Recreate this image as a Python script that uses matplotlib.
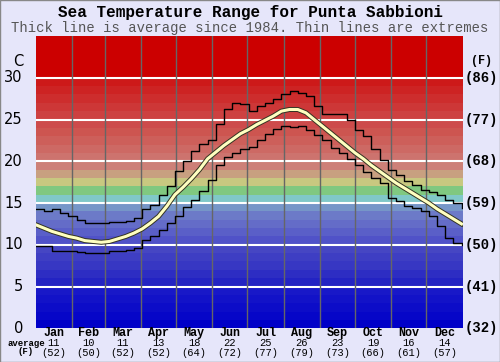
import numpy as np
import matplotlib
matplotlib.use("Agg")
import matplotlib.pyplot as plt
import matplotlib.patheffects as pe

# day of year for each sample (weekly)
days = list(range(0, 365, 7))

avg_temp = [12.4, 12.0, 11.6, 11.3, 11.0, 10.8, 10.5, 10.4, 10.3, 10.4,
            10.7, 11.0, 11.4, 11.9, 12.6, 13.4, 14.6, 16.0, 16.9, 17.9,
            19.0, 20.3, 21.1, 21.9, 22.6, 23.3, 23.8, 24.4, 24.9, 25.4,
            26.0, 26.2, 26.2, 25.8, 25.0, 24.2, 23.4, 22.6, 21.8, 21.0,
            20.3, 19.5, 18.8, 18.1, 17.4, 16.8, 16.2, 15.6, 15.0, 14.3,
            13.7, 13.1, 12.5]

max_temp = [14.3, 14.1, 14.3, 13.8, 13.4, 13.0, 12.6, 12.6, 12.6, 12.7,
            12.7, 12.8, 13.2, 14.3, 14.8, 16.0, 17.0, 18.8, 20.0, 21.2,
            22.1, 22.5, 24.5, 26.3, 27.0, 26.8, 26.0, 26.6, 27.0, 27.5,
            28.0, 28.4, 28.2, 27.8, 26.6, 25.6, 25.6, 25.7, 25.0, 23.8,
            23.0, 21.5, 20.2, 19.0, 18.3, 17.6, 17.2, 16.6, 16.3, 16.0,
            15.4, 15.0, 14.4]

min_temp = [9.9, 9.8, 9.2, 9.3, 9.2, 9.1, 9.0, 9.0, 9.0, 9.2,
            9.2, 9.4, 9.6, 10.6, 11.0, 11.8, 12.6, 13.4, 14.5, 15.4,
            16.4, 17.8, 19.5, 20.5, 21.0, 21.5, 21.7, 22.5, 23.3, 23.9,
            24.2, 24.1, 24.2, 23.8, 23.2, 22.6, 21.6, 21.0, 20.3, 19.6,
            18.7, 18.0, 17.4, 15.6, 15.2, 14.7, 14.4, 14.0, 13.5, 12.2,
            10.8, 10.2, 10.0]

months = ["Jan", "Feb", "Mar", "Apr", "May", "Jun",
          "Jul", "Aug", "Sep", "Oct", "Nov", "Dec"]
month_days = [31, 28, 31, 30, 31, 30, 31, 31, 30, 31, 30, 31]
month_avg_c = [11, 10, 11, 13, 18, 22, 25, 26, 23, 19, 16, 14]
month_avg_f = [52, 50, 52, 52, 64, 72, 77, 79, 73, 66, 61, 57]

c_ticks = [0, 5, 10, 15, 20, 25, 30]
f_labels = ["(32)", "(41)", "(50)", "(59)", "(68)", "(77)", "(86)"]

# background band colour for each 1 degree band, 0..34 C
band_colors = [
    (0, 0, 200), (6, 6, 200), (12, 12, 200), (18, 18, 200), (24, 24, 200),
    (35, 35, 195), (45, 45, 195), (55, 55, 195), (62, 62, 195), (70, 70, 195),
    (80, 82, 200), (90, 95, 200), (100, 108, 200), (108, 122, 200), (118, 150, 200),
    (128, 200, 200), (128, 200, 128), (200, 200, 128), (200, 160, 128), (205, 128, 120),
    (205, 115, 110), (205, 105, 100), (205, 95, 90), (205, 85, 80), (205, 75, 75),
    (205, 65, 65), (205, 55, 55), (205, 45, 45), (205, 35, 35), (205, 25, 25),
    (204, 0, 0), (204, 0, 0), (204, 0, 0), (204, 0, 0), (204, 0, 0),
]

BG = "#e6e6fa"
MONO = ["Liberation Mono", "DejaVu Sans Mono"]

fig = plt.figure(figsize=(5.0, 3.62), dpi=100, facecolor=BG)
fig.patches.append(plt.Rectangle((0, 0), 1, 1, transform=fig.transFigure,
                                 fill=False, edgecolor="#888888", lw=1))
ax = fig.add_axes([0.0714, 0.0931, 0.8540, 0.8075])

for t, col in enumerate(band_colors):
    ax.axhspan(t, t + 1, color=np.array(col) / 255, lw=0, zorder=0)

for t in c_ticks[1:]:
    ax.axhline(t, color="white", lw=1.5, zorder=1)

bounds = np.cumsum([0] + month_days)
for b in bounds[1:-1]:
    ax.axvline(b, color="#666666", lw=1, zorder=1)

ax.plot(days, max_temp, color="black", lw=1, drawstyle="steps-post", zorder=3)
ax.plot(days, min_temp, color="black", lw=1, drawstyle="steps-post", zorder=3)
ax.plot(days, avg_temp, color="#ffffc0", lw=2.2, zorder=4,
        path_effects=[pe.Stroke(linewidth=3.6, foreground="#333322"), pe.Normal()])

ax.set_xlim(0, 365)
ax.set_ylim(0, 35)
ax.set_xticks([])
ax.set_yticks([])
for s in ax.spines.values():
    s.set_visible(False)

ytr = ax.get_yaxis_transform()
xtr = ax.get_xaxis_transform()

# left celsius labels
for t in c_ticks:
    ax.text(-0.03, t, str(t), transform=ytr, ha="right", va="center",
            fontsize=10.5, family="DejaVu Sans")
ax.text(-0.03, 32, "C", transform=ytr, ha="right", va="center",
        fontsize=10.5, family="DejaVu Sans")

# right fahrenheit labels
for t, lab in zip(c_ticks, f_labels):
    ax.text(1.005, t, lab, transform=ytr, ha="left", va="center",
            fontsize=10, family=MONO, weight="bold")
ax.text(1.043, 32, "(F)", transform=ytr, ha="center", va="center",
        fontsize=8.5, family=MONO, weight="bold")

# month labels with averages
mids = (bounds[:-1] + bounds[1:]) / 2
for m, name, c, f in zip(mids, months, month_avg_c, month_avg_f):
    ax.text(m, -0.017, name, transform=xtr, ha="center", va="center",
            fontsize=8.5, family=MONO, weight="bold")
    ax.text(m, -0.051, str(c), transform=xtr, ha="center", va="center",
            fontsize=7.5, family=MONO)
    ax.text(m, -0.083, "(%d)" % f, transform=xtr, ha="center", va="center",
            fontsize=7.5, family=MONO)
fig.text(0.052, 1 - 343 / 362, "average", ha="center", va="center",
         fontsize=6.5, family=MONO, weight="bold")
fig.text(0.052, 1 - 352 / 362, "(F)", ha="center", va="center",
         fontsize=6.5, family=MONO, weight="bold")

fig.text(0.5, 0.965, "Sea Temperature Range for Punta Sabbioni", ha="center",
         va="center", fontsize=11.5, family=MONO, weight="bold")
fig.text(0.5, 0.922, "Thick line is average since 1984. Thin lines are extremes",
         ha="center", va="center", fontsize=10, family=MONO, color="#555555")

fig.savefig("out.png", dpi=100, facecolor=BG)
